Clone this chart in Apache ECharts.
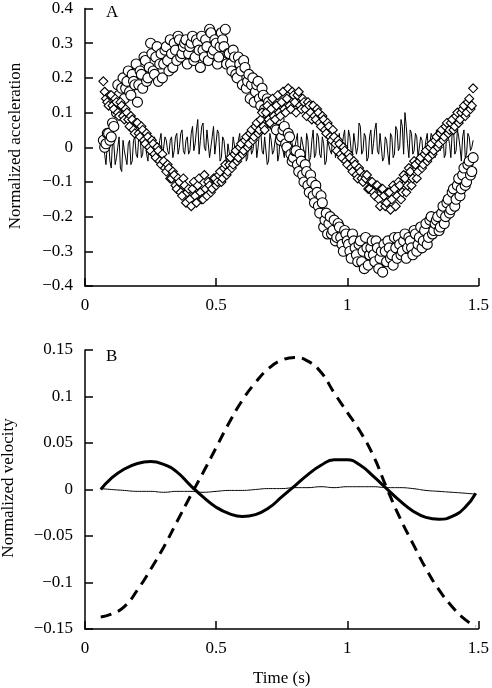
<!DOCTYPE html>
<html>
<head>
<meta charset="utf-8">
<script src="https://cdn.jsdelivr.net/npm/echarts@6/dist/echarts.min.js"></script>
<style>
  html, body { margin: 0; padding: 0; background: #fff; }
  #chart { width: 492px; height: 688px; }
</style>
</head>
<body>
<div id="chart"></div>
<script>
// panel A sample times (s): main samples and the in-between samples
const accTimes = [
  0.07, 0.08, 0.09, 0.10, 0.11, 0.12, 0.13, 0.14, 0.15, 0.16,
  0.17, 0.18, 0.19, 0.20, 0.21, 0.22, 0.23, 0.24, 0.25, 0.26,
  0.27, 0.28, 0.29, 0.30, 0.31, 0.32, 0.33, 0.34, 0.35, 0.36,
  0.37, 0.38, 0.39, 0.40, 0.41, 0.42, 0.43, 0.44, 0.45, 0.46,
  0.47, 0.48, 0.49, 0.50, 0.51, 0.52, 0.53, 0.54, 0.55, 0.56,
  0.57, 0.58, 0.59, 0.60, 0.61, 0.62, 0.63, 0.64, 0.65, 0.66,
  0.67, 0.68, 0.69, 0.70, 0.71, 0.72, 0.73, 0.74, 0.75, 0.76,
  0.77, 0.78, 0.79, 0.80, 0.81, 0.82, 0.83, 0.84, 0.85, 0.86,
  0.87, 0.88, 0.89, 0.90, 0.91, 0.92, 0.93, 0.94, 0.95, 0.96,
  0.97, 0.98, 0.99, 1.00, 1.01, 1.02, 1.03, 1.04, 1.05, 1.06,
  1.07, 1.08, 1.09, 1.10, 1.11, 1.12, 1.13, 1.14, 1.15, 1.16,
  1.17, 1.18, 1.19, 1.20, 1.21, 1.22, 1.23, 1.24, 1.25, 1.26,
  1.27, 1.28, 1.29, 1.30, 1.31, 1.32, 1.33, 1.34, 1.35, 1.36,
  1.37, 1.38, 1.39, 1.40, 1.41, 1.42, 1.43, 1.44, 1.45, 1.46,
  1.47, 1.48
];
const accTimesMid = [
  0.075, 0.085, 0.095, 0.105, 0.115, 0.125, 0.135, 0.145, 0.155, 0.165,
  0.175, 0.185, 0.195, 0.205, 0.215, 0.225, 0.235, 0.245, 0.255, 0.265,
  0.275, 0.285, 0.295, 0.305, 0.315, 0.325, 0.335, 0.345, 0.355, 0.365,
  0.375, 0.385, 0.395, 0.405, 0.415, 0.425, 0.435, 0.445, 0.455, 0.465,
  0.475, 0.485, 0.495, 0.505, 0.515, 0.525, 0.535, 0.545, 0.555, 0.565,
  0.575, 0.585, 0.595, 0.605, 0.615, 0.625, 0.635, 0.645, 0.655, 0.665,
  0.675, 0.685, 0.695, 0.705, 0.715, 0.725, 0.735, 0.745, 0.755, 0.765,
  0.775, 0.785, 0.795, 0.805, 0.815, 0.825, 0.835, 0.845, 0.855, 0.865,
  0.875, 0.885, 0.895, 0.905, 0.915, 0.925, 0.935, 0.945, 0.955, 0.965,
  0.975, 0.985, 0.995, 1.005, 1.015, 1.025, 1.035, 1.045, 1.055, 1.065,
  1.075, 1.085, 1.095, 1.105, 1.115, 1.125, 1.135, 1.145, 1.155, 1.165,
  1.175, 1.185, 1.195, 1.205, 1.215, 1.225, 1.235, 1.245, 1.255, 1.265,
  1.275, 1.285, 1.295, 1.305, 1.315, 1.325, 1.335, 1.345, 1.355, 1.365,
  1.375, 1.385, 1.395, 1.405, 1.415, 1.425, 1.435, 1.445, 1.455, 1.465,
  1.475
];

// circles (large slow wave)
const accCircles = [
  0.02, 0.01, 0.04, 0.03, 0.06, 0.10, 0.15, 0.17, 0.14, 0.19,
  0.16, 0.21, 0.18, 0.13, 0.22, 0.17, 0.25, 0.20, 0.30, 0.22,
  0.26, 0.19, 0.27, 0.24, 0.29, 0.22, 0.27, 0.30, 0.25, 0.31,
  0.27, 0.30, 0.24, 0.29, 0.32, 0.26, 0.30, 0.23, 0.28, 0.31,
  0.25, 0.33, 0.28, 0.30, 0.26, 0.33, 0.29, 0.24, 0.27, 0.22,
  0.26, 0.20, 0.24, 0.18, 0.23, 0.19, 0.14, 0.20, 0.16, 0.19,
  0.12, 0.15, 0.10, 0.13, 0.07, 0.10, 0.05, 0.08, 0.03, 0.06,
  0.00, 0.03, -0.04, -0.01, -0.05, -0.02, -0.08, -0.05, -0.11, -0.08,
  -0.14, -0.11, -0.17, -0.14, -0.23, -0.19, -0.22, -0.25, -0.21, -0.26,
  -0.23, -0.28, -0.24, -0.27, -0.30, -0.25, -0.29, -0.33, -0.27, -0.30,
  -0.26, -0.34, -0.29, -0.31, -0.27, -0.35, -0.30, -0.28, -0.33, -0.29,
  -0.31, -0.26, -0.32, -0.28, -0.30, -0.25, -0.29, -0.27, -0.31, -0.25,
  -0.28, -0.23, -0.27, -0.22, -0.26, -0.20, -0.24, -0.21, -0.24, -0.19,
  -0.22, -0.16, -0.19, -0.13, -0.17, -0.11, -0.14, -0.08, -0.11, -0.05,
  -0.08, -0.03
];
const accCirclesMid = [
  0.00, 0.04, 0.02, 0.07, 0.12, 0.18, 0.13, 0.20, 0.17, 0.22,
  0.15, 0.19, 0.24, 0.18, 0.21, 0.26, 0.19, 0.23, 0.27, 0.21,
  0.29, 0.24, 0.20, 0.28, 0.25, 0.31, 0.23, 0.28, 0.32, 0.26,
  0.29, 0.31, 0.27, 0.30, 0.25, 0.31, 0.28, 0.32, 0.26, 0.29,
  0.34, 0.27, 0.31, 0.24, 0.29, 0.31, 0.34, 0.27, 0.24, 0.28,
  0.21, 0.26, 0.22, 0.25, 0.17, 0.21, 0.18, 0.13, 0.18, 0.14,
  0.17, 0.11, 0.14, 0.08, 0.11, 0.06, 0.09, 0.02, 0.05, 0.01,
  0.04, -0.02, -0.03, -0.01, -0.07, -0.04, -0.10, -0.07, -0.13, -0.10,
  -0.16, -0.13, -0.19, -0.16, -0.21, -0.25, -0.20, -0.24, -0.27, -0.22,
  -0.26, -0.30, -0.25, -0.28, -0.32, -0.27, -0.31, -0.28, -0.33, -0.35,
  -0.29, -0.31, -0.27, -0.33, -0.29, -0.32, -0.36, -0.30, -0.27, -0.32,
  -0.34, -0.29, -0.26, -0.31, -0.27, -0.32, -0.26, -0.29, -0.24, -0.30,
  -0.26, -0.29, -0.24, -0.28, -0.21, -0.25, -0.22, -0.20, -0.23, -0.17,
  -0.20, -0.15, -0.18, -0.12, -0.15, -0.09, -0.12, -0.06, -0.10, -0.04,
  -0.07
];

// diamonds (faster wave)
const accDiamonds = [
  0.19, 0.14, 0.12, 0.15, 0.11, 0.13, 0.09, 0.12, 0.08, 0.10,
  0.06, 0.08, 0.04, 0.07, 0.03, 0.05, 0.01, 0.03, -0.01, 0.01,
  -0.03, -0.01, -0.05, -0.04, -0.07, -0.06, -0.09, -0.08, -0.12, -0.10,
  -0.14, -0.11, -0.13, -0.15, -0.12, -0.14, -0.11, -0.13, -0.15, -0.12,
  -0.10, -0.13, -0.09, -0.11, -0.08, -0.10, -0.06, -0.08, -0.05, -0.06,
  -0.02, -0.04, 0.00, -0.02, 0.02, 0.00, 0.04, 0.02, 0.06, 0.04,
  0.08, 0.06, 0.10, 0.08, 0.11, 0.09, 0.12, 0.10, 0.13, 0.11,
  0.14, 0.12, 0.16, 0.13, 0.15, 0.12, 0.14, 0.11, 0.13, 0.10,
  0.12, 0.08, 0.10, 0.06, 0.08, 0.04, 0.06, 0.02, 0.03, -0.01,
  0.01, -0.03, -0.01, -0.05, -0.03, -0.07, -0.05, -0.09, -0.07, -0.10,
  -0.09, -0.12, -0.10, -0.13, -0.11, -0.15, -0.12, -0.14, -0.16, -0.13,
  -0.15, -0.12, -0.14, -0.11, -0.13, -0.09, -0.11, -0.07, -0.09, -0.05,
  -0.07, -0.03, -0.05, -0.01, -0.03, 0.01, -0.01, 0.03, 0.01, 0.05,
  0.03, 0.07, 0.05, 0.08, 0.06, 0.10, 0.08, 0.11, 0.09, 0.13,
  0.11, 0.17
];
const accDiamondsMid = [
  0.16, 0.13, 0.15, 0.12, 0.14, 0.10, 0.13, 0.09, 0.11, 0.08,
  0.09, 0.05, 0.07, 0.04, 0.06, 0.02, 0.04, 0.00, 0.02, -0.02,
  0.00, -0.04, -0.02, -0.06, -0.05, -0.09, -0.07, -0.11, -0.09, -0.13,
  -0.09, -0.16, -0.12, -0.17, -0.10, -0.16, -0.09, -0.15, -0.08, -0.14,
  -0.11, -0.12, -0.09, -0.10, -0.07, -0.09, -0.05, -0.07, -0.03, -0.05,
  -0.01, -0.03, 0.01, -0.01, 0.03, 0.01, 0.05, 0.03, 0.07, 0.05,
  0.10, 0.05, 0.12, 0.07, 0.14, 0.08, 0.15, 0.09, 0.16, 0.10,
  0.17, 0.11, 0.15, 0.10, 0.16, 0.11, 0.13, 0.09, 0.12, 0.08,
  0.09, 0.11, 0.07, 0.09, 0.05, 0.07, 0.03, 0.05, 0.01, 0.02,
  -0.02, 0.00, -0.04, -0.02, -0.06, -0.04, -0.08, -0.06, -0.09, -0.08,
  -0.08, -0.12, -0.10, -0.14, -0.11, -0.17, -0.12, -0.17, -0.13, -0.18,
  -0.11, -0.17, -0.10, -0.15, -0.08, -0.13, -0.06, -0.11, -0.04, -0.09,
  -0.04, -0.06, -0.02, -0.04, 0.00, -0.02, 0.02, 0.00, 0.04, 0.02,
  0.06, 0.04, 0.07, 0.05, 0.09, 0.07, 0.10, 0.12, 0.10, 0.14,
  0.12
];

// thin noisy trace
const accNoise = [
  0.00, -0.05, 0.02, -0.06, 0.01, -0.03, 0.03, -0.07, -0.01, -0.05,
  0.02, -0.04, 0.03, -0.03, 0.04, -0.02, 0.02, -0.04, 0.01, -0.02,
  0.03, -0.01, 0.04, -0.03, 0.02, -0.02, 0.03, -0.01, 0.04, 0.00,
  0.05, -0.02, 0.03, -0.01, 0.06, 0.01, 0.08, 0.02, 0.07, -0.01,
  0.05, 0.00, 0.06, -0.02, 0.04, -0.03, 0.02, -0.05, 0.01, -0.02,
  0.03, -0.01, 0.04, 0.00, 0.03, -0.03, 0.02, -0.01, 0.04, 0.00,
  0.05, -0.02, 0.03, -0.04, 0.02, -0.01, 0.04, -0.02, 0.03, -0.03,
  0.02, -0.05, 0.01, -0.02, 0.04, -0.01, 0.03, -0.04, 0.02, -0.03,
  0.05, -0.02, 0.03, -0.03, 0.01, -0.04, 0.02, -0.02, 0.03, -0.01,
  0.04, 0.00, 0.05, -0.01, 0.03, -0.02, 0.04, 0.00, 0.06, -0.01,
  0.03, -0.03, 0.05, 0.01, 0.07, -0.02, 0.04, -0.03, 0.02, -0.05,
  0.03, -0.02, 0.05, 0.00, 0.06, 0.10, 0.01, 0.05, -0.02, 0.04,
  -0.03, 0.03, -0.04, 0.02, -0.02, 0.04, -0.01, 0.05, 0.00, 0.03,
  -0.03, 0.06, 0.01, 0.04, -0.02, 0.05, 0.00, 0.03, -0.03, 0.04,
  -0.01, 0.02
];
const accNoiseMid = [
  -0.02, 0.01, -0.04, 0.02, -0.05, 0.00, -0.06, 0.02, -0.03, 0.01,
  -0.05, 0.02, -0.02, 0.03, -0.03, 0.04, -0.02, 0.02, -0.03, 0.03,
  -0.02, 0.02, -0.03, 0.03, -0.01, 0.02, -0.03, 0.03, -0.02, 0.04,
  -0.01, 0.02, -0.02, 0.04, -0.01, 0.05, -0.02, 0.06, 0.00, 0.05,
  -0.03, 0.03, -0.02, 0.05, -0.04, 0.03, -0.02, 0.01, -0.04, 0.03,
  -0.02, 0.02, -0.03, 0.01, -0.04, 0.03, -0.02, 0.02, -0.03, 0.04,
  -0.01, 0.03, -0.05, 0.04, -0.02, 0.02, -0.04, 0.05, -0.01, 0.03,
  -0.03, 0.04, -0.02, 0.02, -0.05, 0.03, -0.01, 0.04, -0.04, 0.02,
  -0.03, 0.04, -0.02, 0.03, -0.05, 0.02, -0.01, 0.05, -0.03, 0.02,
  -0.02, 0.03, -0.03, 0.05, -0.01, 0.04, -0.02, 0.07, -0.02, 0.04,
  -0.04, 0.03, -0.02, 0.05, -0.01, 0.04, -0.04, 0.03, -0.02, 0.04,
  -0.03, 0.06, -0.01, 0.08, -0.02, 0.06, -0.03, 0.04, -0.01, 0.03,
  -0.03, 0.02, -0.04, 0.04, -0.02, 0.03, -0.03, 0.05, -0.01, 0.04,
  -0.02, 0.03, -0.03, 0.06, -0.01, 0.03, -0.04, 0.05, -0.02, 0.03,
  0.00
];

// panel B
const velTimes = [
  0.06, 0.10, 0.15, 0.20, 0.25, 0.30, 0.35, 0.40, 0.45, 0.50, 0.55, 0.60, 0.65, 0.70, 0.75,
  0.80, 0.85, 0.90, 0.95, 1.00, 1.05, 1.10, 1.15, 1.20, 1.25, 1.30, 1.35, 1.40, 1.45, 1.49
];
const velThick = [
  0.000, 0.012, 0.022, 0.028, 0.030, 0.027, 0.019, 0.005, -0.008, -0.019, -0.026, -0.029, -0.027, -0.020, -0.008,
  0.004, 0.016, 0.026, 0.032, 0.032, 0.026, 0.014, 0.001, -0.012, -0.023, -0.030, -0.032, -0.029, -0.019, -0.004
];
const velDashed = [
  -0.137, -0.134, -0.126, -0.108, -0.086, -0.062, -0.035, -0.008, 0.018, 0.045, 0.072, 0.096, 0.115, 0.130, 0.139,
  0.142, 0.138, 0.126, 0.104, 0.083, 0.062, 0.036, 0.002, -0.030, -0.058, -0.085, -0.108, -0.126, -0.140, -0.147
];
const velThin = [
  0.001, 0.000, -0.001, -0.002, -0.002, -0.003, -0.002, -0.002, -0.003, -0.002, -0.001, -0.001, 0.000, 0.001, 0.001,
  0.002, 0.002, 0.003, 0.002, 0.003, 0.003, 0.003, 0.002, 0.002, 0.001, -0.001, -0.002, -0.003, -0.004, -0.005
];

const FONT = '"Liberation Serif", "DejaVu Serif", serif';
const FS = 17;

const pair = (ts, vs) => ts.map((t, i) => [t, vs[i]]);
// main + in-between samples, in time order (for the line trace)
const merged = (ta, va, tb, vb) => pair(ta, va).concat(pair(tb, vb)).sort((a, b) => a[0] - b[0]);

const fmtNum = (v) => {
  if (Math.abs(v) < 1e-9) return '0';
  const s = String(parseFloat(Math.abs(v).toFixed(2)));
  return (v < 0 ? '\u2212' : '') + s;
};

const xAxisBase = (gridIndex, name) => ({
  type: 'value',
  gridIndex,
  min: 0,
  max: 1.5,
  interval: 0.5,
  name: name || '',
  nameLocation: 'middle',
  nameGap: 41,
  nameTextStyle: { color: '#000', fontFamily: FONT, fontSize: FS },
  axisLine: { onZero: false, lineStyle: { color: '#000', width: 1.5 } },
  axisTick: { inside: true, length: 8, lineStyle: { color: '#000', width: 1.5 } },
  axisLabel: { color: '#000', fontFamily: FONT, fontSize: FS, margin: 11, formatter: fmtNum },
  splitLine: { show: false }
});

const yAxisBase = (gridIndex, min, max, interval) => ({
  type: 'value',
  gridIndex,
  min,
  max,
  interval,
  axisLine: { show: true, onZero: false, lineStyle: { color: '#000', width: 1.5 } },
  axisTick: { show: true, inside: true, length: 8, lineStyle: { color: '#000', width: 1.5 } },
  axisLabel: { color: '#000', fontFamily: FONT, fontSize: FS, margin: 12, formatter: fmtNum },
  splitLine: { show: false }
});

// rotated y-axis titles
const yTitle = (text, x, y) => ({
  type: 'text',
  x,
  y,
  rotation: Math.PI / 2,
  style: { text, font: FS + 'px ' + FONT, fill: '#000', align: 'center', verticalAlign: 'middle' }
});

const markerStyle = { color: '#fff', borderColor: '#000', borderWidth: 1.1, opacity: 1 };

const chart = echarts.init(document.getElementById('chart'), null, { renderer: 'canvas' });

const option = {
  animation: false,
  backgroundColor: '#fff',
  grid: [
    { left: 85, top: 4, width: 397, height: 282 },
    { left: 85, top: 350, width: 397, height: 281 }
  ],
  graphic: [
    { type: 'text', left: 106, top: 4, style: { text: 'A', font: FS + 'px ' + FONT, fill: '#000' } },
    { type: 'text', left: 106, top: 348, style: { text: 'B', font: FS + 'px ' + FONT, fill: '#000' } },
    yTitle('Normalized acceleration', 16, 146),
    yTitle('Normalized velocity', 9, 488)
  ],
  xAxis: [xAxisBase(0), xAxisBase(1, 'Time (s)')],
  yAxis: [
    yAxisBase(0, -0.4, 0.4, 0.1),
    yAxisBase(1, -0.15, 0.15, 0.05)
  ],
  series: [
    {
      name: 'noise',
      type: 'line',
      xAxisIndex: 0,
      yAxisIndex: 0,
      data: merged(accTimes, accNoise, accTimesMid, accNoiseMid),
      showSymbol: false,
      lineStyle: { color: '#000', width: 1 },
      z: 1
    },
    {
      name: 'circles',
      type: 'scatter',
      xAxisIndex: 0,
      yAxisIndex: 0,
      data: merged(accTimes, accCircles, accTimesMid, accCirclesMid),
      symbol: 'circle',
      symbolSize: 10,
      itemStyle: markerStyle,
      z: 2
    },
    {
      name: 'diamonds',
      type: 'scatter',
      xAxisIndex: 0,
      yAxisIndex: 0,
      data: merged(accTimes, accDiamonds, accTimesMid, accDiamondsMid),
      symbol: 'diamond',
      symbolSize: 9,
      itemStyle: markerStyle,
      z: 3
    },
    {
      name: 'thin',
      type: 'line',
      xAxisIndex: 1,
      yAxisIndex: 1,
      data: pair(velTimes, velThin),
      smooth: true,
      showSymbol: false,
      lineStyle: { color: '#000', width: 1 }
    },
    {
      name: 'thick',
      type: 'line',
      xAxisIndex: 1,
      yAxisIndex: 1,
      data: pair(velTimes, velThick),
      smooth: true,
      showSymbol: false,
      lineStyle: { color: '#000', width: 3 }
    },
    {
      name: 'dashed',
      type: 'line',
      xAxisIndex: 1,
      yAxisIndex: 1,
      data: pair(velTimes, velDashed),
      smooth: true,
      showSymbol: false,
      lineStyle: { color: '#000', width: 3, type: [11, 7] }
    }
  ]
};

chart.setOption(option);
</script>
</body>
</html>
